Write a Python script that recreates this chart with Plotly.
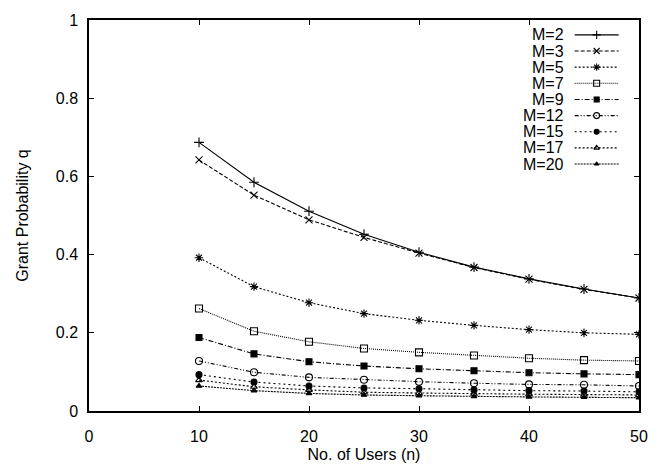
import plotly.graph_objects as go

users = [10, 15, 20, 25, 30, 35, 40, 45, 50]

series_names = ["M=2", "M=3", "M=5", "M=7", "M=9", "M=12", "M=15", "M=17", "M=20"]
q_m2 = [0.687, 0.585, 0.511, 0.452, 0.406, 0.368, 0.338, 0.312, 0.289]
q_m3 = [0.642, 0.552, 0.489, 0.444, 0.404, 0.367, 0.337, 0.311, 0.289]
q_m5 = [0.392, 0.318, 0.277, 0.249, 0.232, 0.219, 0.208, 0.200, 0.196]
q_m7 = [0.262, 0.204, 0.177, 0.160, 0.150, 0.142, 0.135, 0.130, 0.128]
q_m9 = [0.188, 0.146, 0.126, 0.115, 0.108, 0.103, 0.098, 0.095, 0.093]
q_m12 = [0.128, 0.099, 0.086, 0.080, 0.075, 0.071, 0.068, 0.067, 0.064]
q_m15 = [0.093, 0.074, 0.064, 0.059, 0.057, 0.054, 0.052, 0.051, 0.049]
q_m17 = [0.079, 0.062, 0.054, 0.048, 0.046, 0.044, 0.043, 0.042, 0.041]
q_m20 = [0.064, 0.052, 0.045, 0.041, 0.039, 0.037, 0.036, 0.035, 0.034]
series_values = [q_m2, q_m3, q_m5, q_m7, q_m9, q_m12, q_m15, q_m17, q_m20]

x_ticks = [0, 10, 20, 30, 40, 50]
y_ticks = [0, 0.2, 0.4, 0.6, 0.8, 1]
y_tick_labels = ["0", "0.2", "0.4", "0.6", "0.8", "1"]

dashes = ["solid", "4px,2px", "2px,2px", "1px,1px", "5px,2px,1px,2px",
          "4px,2px,1px,2px,1px,2px", "2px,3px", "2px,2px", "2px,1px"]
symbols = ["cross-thin-open", "x-thin-open", "asterisk-open", "square-open", "square",
           "circle-open", "circle", "triangle-up-open", "triangle-up"]
sizes = [7, 7, 7, 7, 6, 7, 6, 6, 5]

FONT = "Liberation Sans, Arial, Helvetica, sans-serif"

fig = go.Figure()
for name, vals, d, s, sz in zip(series_names, series_values, dashes, symbols, sizes):
    fig.add_trace(go.Scatter(
        x=users, y=vals, mode="lines+markers", name=name, showlegend=False,
        line=dict(color="black", width=1.1, dash=d),
        marker=dict(symbol=s, size=sz, color="black", line=dict(color="black", width=1.1)),
    ))

# custom legend (text left of sample) in an overlay axis [0,1]
leg_x0, leg_x1, leg_xm = 0.883, 0.963, 0.923
leg_top, leg_step = 0.962, 0.0413
for i, (name, d, s, sz) in enumerate(zip(series_names, dashes, symbols, sizes)):
    yy = leg_top - i * leg_step
    fig.add_trace(go.Scatter(
        x=[leg_x0, leg_x1], y=[yy, yy], mode="lines", xaxis="x2", yaxis="y2",
        showlegend=False, hoverinfo="skip",
        line=dict(color="black", width=1.1, dash=d)))
    fig.add_trace(go.Scatter(
        x=[leg_xm], y=[yy], mode="markers", xaxis="x2", yaxis="y2",
        showlegend=False, hoverinfo="skip",
        marker=dict(symbol=s, size=sz - 1, color="black", line=dict(color="black", width=1.1))))
    fig.add_annotation(x=0.867, y=yy, xref="x2", yref="y2", text=name, showarrow=False,
                       xanchor="right", yanchor="middle",
                       font=dict(family=FONT, size=16, color="black"))

axis_common = dict(showgrid=False, zeroline=False, showline=True, linecolor="black",
                   linewidth=1.5, mirror="allticks", ticks="inside", ticklen=5,
                   tickcolor="black", tickwidth=1.2,
                   tickfont=dict(family=FONT, size=16, color="black"))

fig.update_layout(
    width=660, height=473,
    margin=dict(l=89, r=13, t=14, b=59),
    paper_bgcolor="white", plot_bgcolor="white",
    xaxis=dict(range=[0, 50], tickvals=x_ticks, ticktext=[str(v) for v in x_ticks],
               ticklabelstandoff=10,
               title=dict(text="No. of Users (n)", standoff=5,
                          font=dict(family=FONT, size=16, color="black")),
               **axis_common),
    yaxis=dict(range=[0, 1], tickvals=y_ticks, ticktext=y_tick_labels,
               ticklabelstandoff=6,
               title=dict(text="Grant Probability q", standoff=23,
                          font=dict(family=FONT, size=16, color="black")),
               **axis_common),
    xaxis2=dict(range=[0, 1], overlaying="x", anchor="y2", visible=False, fixedrange=True),
    yaxis2=dict(range=[0, 1], overlaying="y", anchor="x2", visible=False, fixedrange=True),
    showlegend=False,
)

fig.write_html("out.html")
